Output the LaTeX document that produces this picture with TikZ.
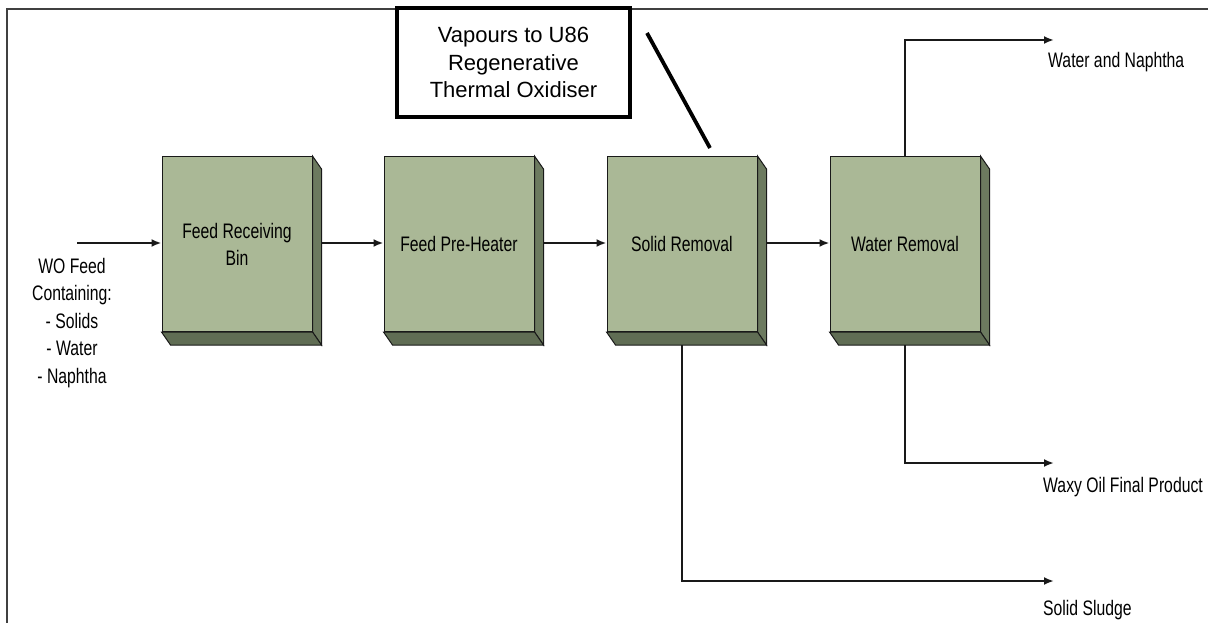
\documentclass[tikz,border=0pt]{standalone}
\usepackage{fontspec}
\setmainfont{Liberation Sans}
\newfontfamily\narrowfont[FakeStretch=0.75]{Liberation Sans}
\usetikzlibrary{arrows.meta,calc}
\definecolor{boxgreen}{RGB}{170,184,150}
\definecolor{boxside}{RGB}{108,122,95}
\definecolor{boxbottom}{RGB}{96,109,84}
\tikzset{
  unitbox/.style={draw=black!90, line width=1pt, fill=boxgreen,
    minimum width=150pt, minimum height=175pt, inner sep=0pt, align=center,
    font=\narrowfont\fontsize{21}{27}\selectfont},
  flow/.style={line width=2.4pt, black!90, -{Latex[length=10pt,width=8pt]}},
  streamlabel/.style={font=\narrowfont\fontsize{21}{27}\selectfont, anchor=west, inner sep=0pt}
}
\begin{document}
\begin{tikzpicture}[x=1pt,y=-1pt]
  \useasboundingbox (0,0) rectangle (1208,623);

  % Frame
  \draw[line width=2.2pt, black!75] (7,623) -- (7,9) -- (1208,9);

  % Process units
  \node[unitbox] (bin)   at (237,244) {Feed Receiving\\Bin};
  \node[unitbox] (heat)  at (459,244) {Feed Pre-Heater};
  \node[unitbox] (solid) at (682,244) {Solid Removal};
  \node[unitbox] (water) at (905,244) {Water Removal};

  % 3D faces (side and bottom)
  \foreach \n in {bin, heat, solid, water} {
    \filldraw[fill=boxside, draw=black!90, line width=1pt]
      (\n.north east) -- ++(9,13) -- ($(\n.south east)+(9,13)$) -- (\n.south east) -- cycle;
    \filldraw[fill=boxbottom, draw=black!90, line width=1pt]
      (\n.south west) -- ++(9,13) -- ($(\n.south east)+(9,13)$) -- (\n.south east) -- cycle;
  }

  % Vapours box and line
  \node[draw, line width=3.8pt, minimum width=233pt, minimum height=109pt, align=center,
    font=\fontsize{22}{27.5}\selectfont] (vap) at (513.5,62.5)
    {Vapours to U86\\Regenerative\\Thermal Oxidiser};
  \coordinate (vtop) at (647,33);
  \coordinate (vbot) at (710,148);
  \draw[line width=3.8pt] (vtop) -- (vbot);

  % Feed
  \node[align=center, inner sep=0pt, font=\narrowfont\fontsize{21}{27.5}\selectfont] (feed) at (72,323)
    {WO Feed\\Containing:\\- Solids\\- Water\\- Naphtha};
  \coordinate (in) at (77,243);
  \draw[flow] (in) -- (in -| bin.west);

  % Main line
  \draw[flow] ($(bin.east)+(9,-1)$) -- (heat.west |- 0,243);
  \draw[flow] ($(heat.east)+(9,-1)$) -- (solid.west |- 0,243);
  \draw[flow] ($(solid.east)+(9,-1)$) -- (water.west |- 0,243);

  % Products
  \coordinate (wn) at (1054,40);
  \coordinate (wx) at (1054,463);
  \coordinate (sl) at (1054,581);
  \draw[flow] (water.north) |- (wn);
  \draw[flow] ($(water.south)+(0,13)$) |- (wx);
  \draw[flow] ($(solid.south)+(0,13)$) |- (sl);
  \node[streamlabel] (wnl) at (1048,62) {Water and Naphtha};
  \node[streamlabel] (wxl) at (1043,487) {Waxy Oil Final Product};
  \node[streamlabel] (sll) at (1043,610) {Solid Sludge};
\end{tikzpicture}
\end{document}
